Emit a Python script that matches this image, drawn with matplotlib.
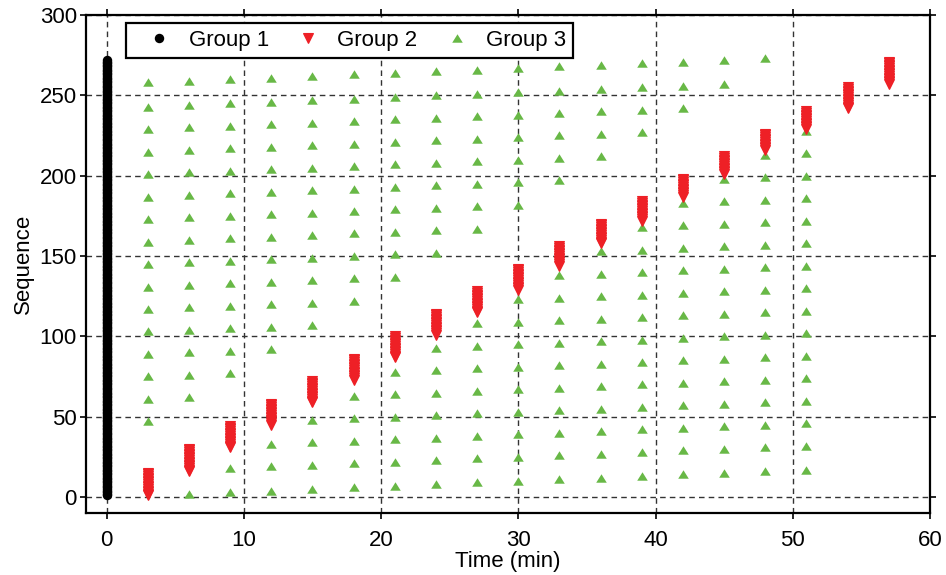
import numpy as np
import matplotlib

matplotlib.use("Agg")
import matplotlib.pyplot as plt

plt.rcParams["font.family"] = ["Liberation Sans", "DejaVu Sans"]
plt.rcParams["font.size"] = 16

# Group 1: every sequence number sent at t = 0
g1_first, g1_last = 1, 272

# Group 2: one burst every 3 min, first/last sequence number of each burst
g2_time = [3, 6, 9, 12, 15, 18, 21, 24, 27, 30, 33, 36, 39, 42, 45, 48, 51, 54, 57]
g2_first = [1, 16, 31, 45, 59, 73, 87, 101, 115, 129, 144, 158, 172, 187, 201, 216, 229, 242, 257]
g2_last = [15, 30, 44, 58, 72, 86, 100, 114, 128, 142, 156, 170, 184, 198, 212, 226, 240, 255, 271]

# Group 3: sequence numbers seen at each time step
g3_time = [3, 6, 9, 12, 15, 18, 21, 24, 27, 30, 33, 36, 39, 42, 45, 48, 51]
g3_seq = [
    [258, 243, 229, 215, 201, 187, 173, 159, 145, 131, 117, 103, 89, 75, 61, 47],
    [259, 244, 230, 216, 202, 188, 174, 160, 146, 132, 118, 104, 90, 76, 62, 2],
    [260, 245, 231, 217, 203, 189, 175, 161, 147, 133, 119, 105, 91, 77, 18, 3],
    [261, 246, 232, 218, 204, 190, 176, 162, 148, 134, 120, 106, 92, 33, 19, 4],
    [262, 247, 233, 219, 205, 191, 177, 163, 149, 135, 121, 107, 48, 34, 20, 5],
    [263, 248, 234, 220, 206, 192, 178, 164, 150, 136, 122, 63, 49, 35, 21, 6],
    [264, 249, 235, 221, 207, 193, 179, 165, 151, 137, 78, 64, 50, 36, 22, 7],
    [265, 250, 236, 222, 208, 194, 180, 166, 152, 93, 79, 65, 51, 37, 23, 8],
    [266, 251, 237, 223, 209, 195, 181, 167, 108, 94, 80, 66, 52, 38, 24, 9],
    [267, 252, 238, 224, 210, 196, 182, 123, 109, 95, 81, 67, 53, 39, 25, 10],
    [268, 253, 239, 225, 211, 197, 138, 124, 110, 96, 82, 68, 54, 40, 26, 11],
    [269, 254, 240, 226, 212, 153, 139, 125, 111, 97, 83, 69, 55, 41, 27, 12],
    [270, 255, 241, 227, 168, 154, 140, 126, 112, 98, 84, 70, 56, 42, 28, 13],
    [271, 256, 242, 183, 169, 155, 141, 127, 113, 99, 85, 71, 57, 43, 29, 14],
    [272, 257, 198, 184, 170, 156, 142, 128, 114, 100, 86, 72, 58, 44, 30, 15],
    [273, 213, 199, 185, 171, 157, 143, 129, 115, 101, 87, 73, 59, 45, 31, 16],
    [228, 214, 200, 186, 172, 158, 144, 130, 116, 102, 88, 74, 60, 46, 32, 17],
]

RED = "#ee2026"
GREEN = "#68b846"
# up triangle a little wider than tall
TRI_UP = [(0, 0.8), (-1, -0.8), (1, -0.8), (0, 0.8)]

fig = plt.figure(figsize=(9.46, 5.75), dpi=100)
ax = fig.add_axes([0.0909, 0.1078, 0.8922, 0.8661])

# group 1
y1 = np.arange(g1_first, g1_last + 1)
ax.plot(np.zeros_like(y1), y1, "o", color="black", markersize=6.8,
        markeredgewidth=0, label="Group 1", zorder=3)

# group 2
x2, y2 = [], []
for t, a, b in zip(g2_time, g2_first, g2_last):
    seq = np.arange(a, b + 1)
    x2.extend([t] * len(seq))
    y2.extend(seq)
ax.plot(x2, y2, "v", color=RED, markersize=6.8, markeredgewidth=0.8,
        markeredgecolor=RED, label="Group 2", zorder=3)

# group 3
x3, y3 = [], []
for t, seq in zip(g3_time, g3_seq):
    x3.extend([t] * len(seq))
    y3.extend(seq)
ax.plot(x3, y3, linestyle="none", marker=TRI_UP, color=GREEN, markersize=7.6,
        markeredgewidth=0, label="Group 3", zorder=2)

ax.set_xlim(-1.5, 60)
ax.set_ylim(-10, 300)
ax.set_xticks(np.arange(0, 61, 10))
ax.set_yticks(np.arange(0, 301, 50))
ax.set_axisbelow(True)
ax.grid(True, color="0.2", linestyle=(0, (4, 3)), linewidth=1.0)

for sp in ax.spines.values():
    sp.set_linewidth(1.6)
ax.tick_params(direction="out", length=4.5, width=1.2, top=True, right=True,
               labeltop=False, labelright=False)
ax.tick_params(axis="x", pad=8)
ax.tick_params(axis="y", pad=2)

ax.set_xlabel("Time (min)", labelpad=0)
ax.set_ylabel("Sequence", labelpad=4)

leg = ax.legend(loc="upper left", bbox_to_anchor=(0.047, 0.9833), borderaxespad=0,
                ncol=3, fancybox=False, framealpha=1, edgecolor="black",
                borderpad=0.3, handlelength=2.4, handletextpad=0.13,
                columnspacing=0.56)
leg.get_frame().set_linewidth(1.6)

fig.savefig("out.png", dpi=100)
